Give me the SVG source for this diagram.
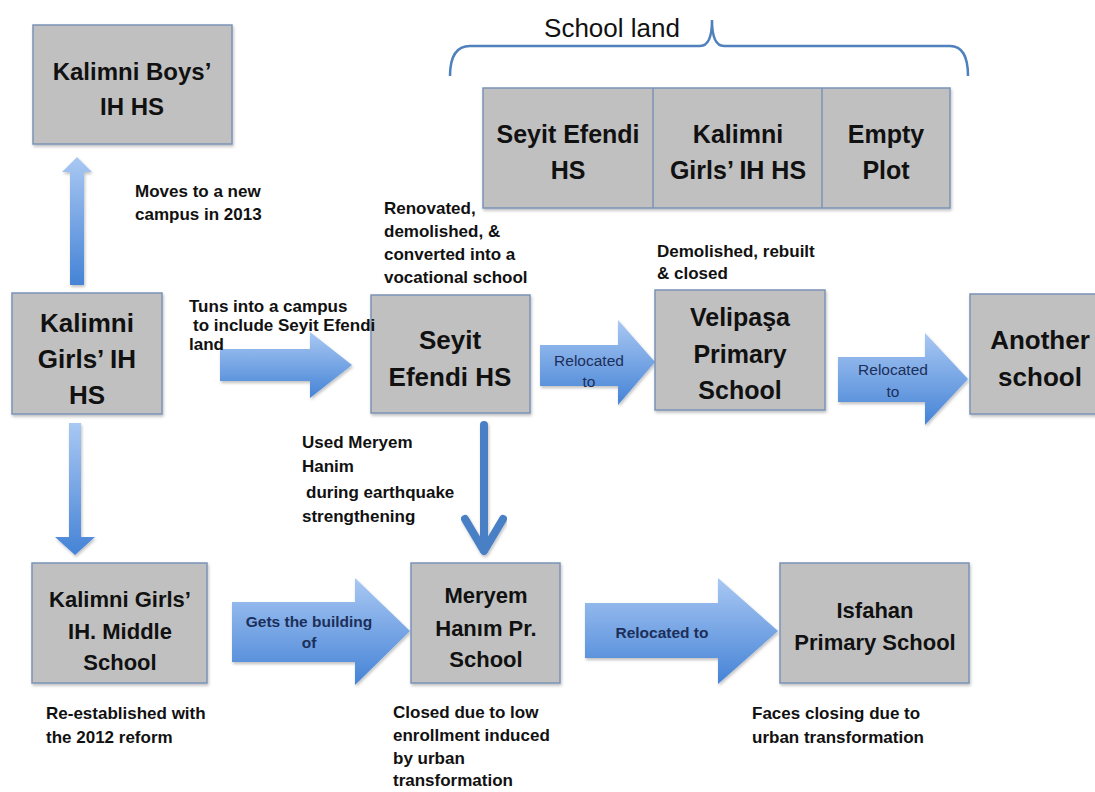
<svg xmlns="http://www.w3.org/2000/svg" width="1095" height="792" viewBox="0 0 1095 792">
<defs>
<linearGradient id="g" x1="0" y1="0" x2="0" y2="1">
<stop offset="0" stop-color="#a9c8f3"/>
<stop offset="1" stop-color="#4583d6"/>
</linearGradient>
<filter id="sh" x="-10%" y="-10%" width="120%" height="125%">
<feDropShadow dx="1" dy="2" stdDeviation="1.5" flood-color="#000" flood-opacity="0.25"/>
</filter>
<style>
.box{fill:#c0c0c0;stroke:#7b93b6;stroke-width:1.5;filter:url(#sh)}
.bt{font-family:"Liberation Sans",Arial,sans-serif;font-weight:bold;fill:#111;text-anchor:middle}
.lb{font-family:"Liberation Sans",Arial,sans-serif;font-weight:bold;font-size:17px;fill:#111}
.al{font-family:"Liberation Sans",Arial,sans-serif;font-size:15.5px;fill:#1c2f5a;text-anchor:middle}
.arr{fill:url(#g);filter:url(#sh)}
</style>
</defs>
<rect width="1095" height="792" fill="#fff"/>

<g id="school-land">
<path d="M450,76 Q450,46 470,46 L700,46 Q712,46 712,20 Q712,46 724,46 L950,46 Q968,46 968,76" fill="none" stroke="#4f81bd" stroke-width="2.5"/>
<text x="612" y="37" font-family="'Liberation Sans',Arial,sans-serif" font-size="26" fill="#111" text-anchor="middle">School land</text>
</g>

<g id="land-plots">
<rect class="box" x="483" y="88" width="467" height="120"/>
<line x1="653" y1="88" x2="653" y2="208" stroke="#7b93b6" stroke-width="1.5"/>
<line x1="822" y1="88" x2="822" y2="208" stroke="#7b93b6" stroke-width="1.5"/>
<text class="bt" font-size="25" x="568" y="143">Seyit Efendi</text>
<text class="bt" font-size="25" x="568" y="179">HS</text>
<text class="bt" font-size="25" x="738" y="143">Kalimni</text>
<text class="bt" font-size="25" x="738" y="179">Girls’ IH HS</text>
<text class="bt" font-size="25" x="886" y="143">Empty</text>
<text class="bt" font-size="25" x="886" y="179">Plot</text>
</g>

<g id="connectors">
<path class="arr" d="M70,285 L70,172 L62,172 L77,157 L92,172 L84,172 L84,285 Z"/>
<path class="arr" d="M69,423 L81,423 L81,537 L95,537 L75,555 L55,537 L69,537 Z"/>
<path class="arr" d="M220,349 L310,349 L310,332 L352,365 L310,398 L310,381 L220,381 Z"/>
<path class="arr" d="M540,345 L618,345 L618,320 L655,362 L618,405 L618,386 L540,386 Z"/>
<path class="arr" d="M838,357 L925,357 L925,333 L968,379 L925,425 L925,402 L838,402 Z"/>
<path class="arr" d="M232,602 L355,602 L355,578 L410,631 L355,685 L355,662 L232,662 Z"/>
<path class="arr" d="M585,603 L718,603 L718,578 L778,631 L718,684 L718,658 L585,658 Z"/>
<g fill="none" stroke="#4a7fc4" stroke-width="8" stroke-linecap="round" stroke-linejoin="round" filter="url(#sh)">
<line x1="484" y1="425" x2="484" y2="550"/>
<polyline points="465,519 484,551 503,519"/>
</g>
<text class="al" x="589" y="366">Relocated</text>
<text class="al" x="589" y="387">to</text>
<text class="al" x="893" y="375">Relocated</text>
<text class="al" x="893" y="397">to</text>
<text class="al" font-weight="bold" x="309" y="627">Gets the building</text>
<text class="al" font-weight="bold" x="309" y="648">of</text>
<text class="al" font-weight="bold" x="662" y="638">Relocated to</text>
</g>

<g id="kalimni-boys">
<rect class="box" x="33" y="25" width="199" height="119"/>
<text class="bt" font-size="24" x="132" y="80">Kalimni Boys’</text>
<text class="bt" font-size="24" x="132" y="115">IH HS</text>
</g>

<g id="kalimni-girls">
<rect class="box" x="12" y="293" width="150" height="121"/>
<text class="bt" font-size="26" x="87" y="332">Kalimni</text>
<text class="bt" font-size="26" x="87" y="368">Girls’ IH</text>
<text class="bt" font-size="26" x="87" y="404">HS</text>
</g>

<g id="seyit-efendi">
<rect class="box" x="371" y="295" width="159" height="118"/>
<text class="bt" font-size="26" x="450" y="349">Seyit</text>
<text class="bt" font-size="26" x="450" y="386">Efendi HS</text>
</g>

<g id="velipasa">
<rect class="box" x="655" y="290" width="170" height="120"/>
<text class="bt" font-size="25" x="740" y="326">Velipaşa</text>
<text class="bt" font-size="25" x="740" y="363">Primary</text>
<text class="bt" font-size="25" x="740" y="399">School</text>
</g>

<g id="another-school">
<rect class="box" x="970" y="294" width="130" height="120"/>
<text class="bt" font-size="26" x="1040" y="349">Another</text>
<text class="bt" font-size="26" x="1040" y="386">school</text>
</g>

<g id="kalimni-middle">
<rect class="box" x="32" y="563" width="175" height="120"/>
<text class="bt" font-size="22" x="120" y="607">Kalimni Girls’</text>
<text class="bt" font-size="22" x="120" y="639">IH. Middle</text>
<text class="bt" font-size="22" x="120" y="670">School</text>
</g>

<g id="meryem-hanim">
<rect class="box" x="411" y="563" width="149" height="120"/>
<text class="bt" font-size="22" x="486" y="603">Meryem</text>
<text class="bt" font-size="22" x="486" y="636">Hanım Pr.</text>
<text class="bt" font-size="22" x="486" y="667">School</text>
</g>

<g id="isfahan">
<rect class="box" x="780" y="563" width="189" height="120"/>
<text class="bt" font-size="22" x="875" y="618">Isfahan</text>
<text class="bt" font-size="22" x="875" y="650">Primary School</text>
</g>

<g id="notes">
<text class="lb" x="135" y="197">Moves to a new</text>
<text class="lb" x="135" y="220">campus in 2013</text>
<text class="lb" x="189" y="312">Tuns into a campus</text>
<text class="lb" x="193" y="331">to include Seyit Efendi</text>
<text class="lb" x="189" y="350">land</text>
<text class="lb" x="384" y="214">Renovated,</text>
<text class="lb" x="384" y="237">demolished, &amp;</text>
<text class="lb" x="384" y="260">converted into a</text>
<text class="lb" x="384" y="283">vocational school</text>
<text class="lb" x="657" y="257">Demolished, rebuilt</text>
<text class="lb" x="657" y="279">&amp; closed</text>
<text class="lb" x="302" y="448">Used Meryem</text>
<text class="lb" x="302" y="472">Hanim</text>
<text class="lb" x="306" y="498">during earthquake</text>
<text class="lb" x="302" y="522">strengthening</text>
<text class="lb" x="46" y="719">Re-established with</text>
<text class="lb" x="46" y="743">the 2012 reform</text>
<text class="lb" x="393" y="718">Closed due to low</text>
<text class="lb" x="393" y="741">enrollment induced</text>
<text class="lb" x="393" y="764">by urban</text>
<text class="lb" x="393" y="786">transformation</text>
<text class="lb" x="752" y="719">Faces closing due to</text>
<text class="lb" x="752" y="743">urban transformation</text>
</g>
</svg>
